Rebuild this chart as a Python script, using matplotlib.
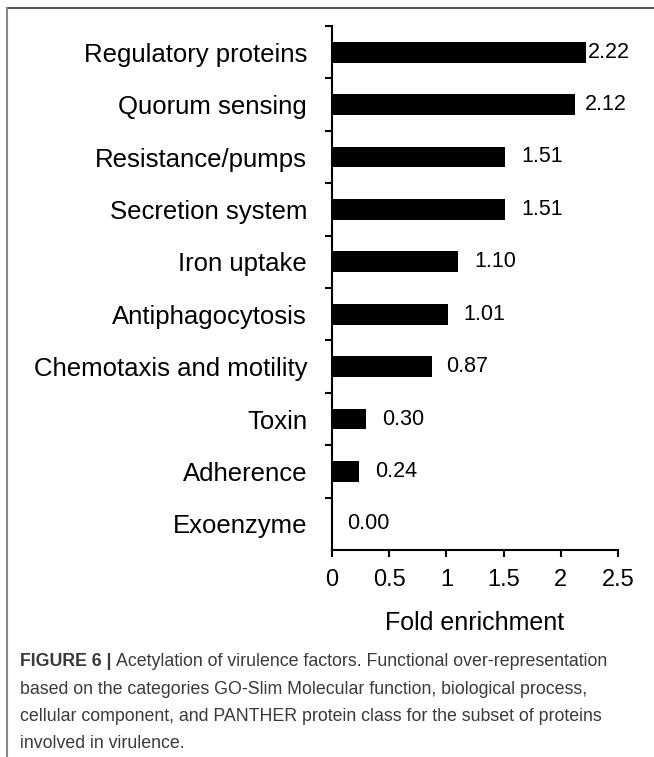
import matplotlib
matplotlib.use('Agg')
import matplotlib.pyplot as plt
import numpy as np

# Datos
categorias = ['Regulatory proteins', 'Quorum sensing', 'Resistance/pumps',
              'Secretion system', 'Iron uptake', 'Antiphagocytosis',
              'Chemotaxis and motility', 'Toxin', 'Adherence', 'Exoenzyme']
enriquecimiento = [2.22, 2.12, 1.51, 1.51, 1.10, 1.01, 0.87, 0.30, 0.24, 0.00]
xticks = [0, 0.5, 1, 1.5, 2, 2.5]
xticklabels = ['0', '0.5', '1', '1.5', '2', '2.5']

plt.rcParams['font.family'] = ['Liberation Sans', 'DejaVu Sans']

W, H = 654, 757
fig = plt.figure(figsize=(W / 100, H / 100), dpi=100)

# Ejes en pixeles
ax = fig.add_axes([332 / W, 1 - 550 / H, 286 / W, 524 / H])

y = np.arange(len(categorias))
ax.barh(y, enriquecimiento, height=0.4, color='black')

ax.set_xlim(0, 2.5)
ax.set_ylim(len(categorias) - 0.5, -0.5)

ax.set_yticks(y)
ax.set_yticklabels(categorias, fontsize=18.5)
ax.set_yticks(np.arange(-0.5, len(categorias) - 1), minor=True)
ax.tick_params(axis='y', which='major', length=0, pad=18)
ax.tick_params(axis='y', which='minor', length=5, width=1.5, direction='out')

ax.set_xticks(xticks)
ax.set_xticklabels(xticklabels, fontsize=17)
ax.tick_params(axis='x', length=5, width=1.5, direction='out', pad=9)
ax.set_xlabel('Fold enrichment', fontsize=18, labelpad=14)

for s in ['top', 'right']:
    ax.spines[s].set_visible(False)
for s in ['left', 'bottom']:
    ax.spines[s].set_linewidth(1.5)

# Etiquetas de valores (desplazamiento en pixeles)
desplaz = [2, 10, 17, 17, 17, 16, 15, 16, 16, 15]
for yi, v, d in zip(y, enriquecimiento, desplaz):
    ax.annotate(f'{v:.2f}', xy=(v, yi), xytext=(d * 0.72, 0),
                textcoords='offset points', va='center', ha='left', fontsize=15.5)

# Marco gris
fig.add_artist(plt.Line2D([7 / W, 1], [1 - 8 / H, 1 - 8 / H], color='#555555', lw=1.5,
                          transform=fig.transFigure))
fig.add_artist(plt.Line2D([7 / W, 7 / W], [0, 1 - 8 / H], color='#8a8a8a', lw=1.5,
                          transform=fig.transFigure))

# Pie de figura
gris = '#3a3a3a'
fs = 12.8
x0 = 20 / W
t = fig.text(x0, 1 - 661 / H, 'FIGURE 6 |', fontsize=fs, fontweight='bold',
             color=gris, va='center')
fig.canvas.draw()
bb = t.get_window_extent()
fig.text(bb.x1 / W + 4 / W, 1 - 661 / H,
         'Acetylation of virulence factors. Functional over-representation',
         fontsize=fs, color=gris, va='center')
lineas = ['based on the categories GO-Slim Molecular function, biological process,',
          'cellular component, and PANTHER protein class for the subset of proteins',
          'involved in virulence.']
for i, l in enumerate(lineas):
    fig.text(x0, 1 - (689 + 27.5 * i) / H, l, fontsize=fs, color=gris, va='center')

fig.savefig('out.png', dpi=100)
